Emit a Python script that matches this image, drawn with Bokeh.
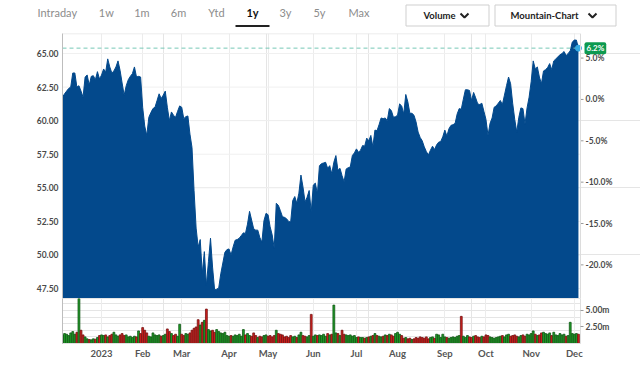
from bokeh.plotting import figure
from bokeh.models import (Range1d, LinearAxis, FixedTicker, NumeralTickFormatter,
                          PrintfTickFormatter, Span, Label, ColumnDataSource, Grid)
from bokeh.layouts import column
from bokeh.embed import file_html
from bokeh.resources import INLINE
from bokeh.core.properties import value

# ---------------- data ----------------
tabs = ["Intraday", "1w", "1m", "6m", "Ytd", "1y", "3y", "5y", "Max"]
active_tab = "1y"
buttons = ["Volume", "Mountain-Chart"]

# daily closes, trading-day index 1..252 (Dec 5 2022 .. Dec 5 2023)
price = [
    61.75, 62.0, 62.2, 62.4, 62.5, 63.55, 63.55, 62.5, 62.6, 62.2,
    61.75, 63.25, 63.4, 62.65, 63.3, 63.35, 63.05, 63.65, 63.1, 63.4,
    63.85, 63.6, 64.6, 64.0, 63.55, 63.7, 64.0, 64.45, 63.75, 62.8,
    61.9, 62.6, 63.05, 63.3, 63.5, 64.0, 63.25, 63.3, 63.25, 61.0,
    59.6, 58.9, 60.25, 60.6, 60.9, 61.0, 61.5, 62.0, 61.65, 61.9,
    62.2, 61.0, 60.0, 60.65, 60.4, 60.25, 60.7, 61.1, 61.0, 60.15,
    60.3, 60.35, 59.0, 58.0, 54.8, 52.0, 50.6, 51.15, 48.6, 50.25,
    47.75, 49.5, 51.25, 49.1, 47.4, 47.45, 47.55, 48.6, 49.4, 50.2,
    50.4, 50.45, 50.0, 50.6, 51.1, 51.15, 51.25, 51.45, 51.65, 51.6,
    52.3, 53.25, 52.6, 51.95, 51.85, 51.85, 51.3, 50.95, 52.55, 53.1,
    53.0, 52.1, 51.5, 50.5, 53.85, 53.7, 53.3, 52.85, 52.8, 52.7,
    52.5, 52.45, 54.05, 54.35, 53.85, 54.6, 55.95, 55.05, 53.95, 54.3,
    54.8, 53.2, 55.2, 55.35, 54.55, 56.65, 56.8, 56.85, 56.9, 56.45,
    56.65, 56.05, 56.9, 57.4, 56.3, 56.45, 55.9, 55.45, 56.4, 56.5,
    56.55, 57.4, 57.6, 57.9, 57.65, 57.8, 58.15, 58.1, 58.7, 58.5,
    58.9, 58.05, 59.3, 59.25, 59.7, 60.2, 60.15, 60.2, 60.0, 60.9,
    60.75, 60.25, 60.3, 60.4, 61.25, 61.1, 60.5, 61.95, 61.4, 60.55,
    60.55, 60.4, 59.9, 59.15, 58.75, 58.5, 58.05, 57.7, 57.45, 57.8,
    58.1, 57.85, 58.2, 58.4, 58.45, 58.8, 59.3, 58.85, 59.4, 59.65,
    59.7, 59.8, 60.5, 60.9, 60.85, 61.6, 62.3, 62.3, 62.25, 61.5,
    62.1, 61.7, 61.25, 61.2, 61.3, 60.7, 60.1, 58.9, 59.8, 60.2,
    61.0, 61.1, 61.3, 61.5, 61.2, 61.9, 62.6, 63.25, 62.75, 61.3,
    60.1, 59.15, 60.25, 60.95, 60.9, 59.75, 60.95, 61.75, 62.9, 64.45,
    63.85, 64.0, 63.25, 62.75, 63.7, 63.8, 63.95, 64.25, 63.8, 64.45,
    64.6, 64.75, 64.9, 65.0, 65.15, 64.85, 65.0, 65.2, 65.85, 66.0,
    66.0, 65.4,
]

# daily volume in millions
volume_m = [
    1.3, 1.5, 1.4, 1.2, 1.6, 1.8, 1.4, 1.7, 7.5, 2.0,
    1.3, 1.0, 0.7, 0.6, 0.55, 0.7, 0.65, 0.9, 1.2, 1.3,
    1.2, 1.3, 1.0, 1.2, 1.4, 1.7, 1.3, 1.1, 1.3, 1.5,
    1.2, 1.3, 1.0, 1.1, 0.9, 1.1, 1.0, 1.9, 1.5, 2.4,
    2.0, 1.6, 1.1, 1.0, 1.6, 1.3, 1.2, 1.3, 1.1, 1.2,
    1.4, 2.2, 1.8, 1.5, 1.2, 1.4, 1.1, 2.9, 1.4, 1.2,
    1.5, 1.4, 1.6, 2.0, 2.3, 2.5, 3.6, 2.8, 3.2, 3.5,
    5.2, 2.1, 1.9, 2.0, 1.7, 2.1, 1.8, 1.6, 1.5, 1.7,
    1.2, 1.1, 1.2, 1.1, 1.3, 1.2, 1.4, 1.1, 2.1, 1.3,
    1.5, 1.2, 1.1, 1.6, 1.2, 0.9, 1.1, 1.0, 1.2, 1.3,
    1.1, 1.2, 1.0, 1.2, 2.0, 1.5, 1.4, 1.3, 1.0, 1.1,
    0.9, 1.2, 1.0, 1.1, 0.9, 1.3, 1.7, 1.2, 1.1, 1.0,
    1.2, 4.4, 1.1, 1.3, 1.2, 1.3, 1.2, 1.4, 1.1, 1.5,
    1.3, 1.4, 5.8, 1.6, 1.5, 1.2, 2.0, 1.4, 1.3, 1.2,
    1.3, 1.1, 1.2, 0.9, 1.0, 0.9, 0.9, 0.8, 0.9, 1.0,
    1.1, 1.2, 1.5, 1.2, 1.1, 1.0, 1.1, 1.3, 1.2, 1.4,
    1.3, 1.1, 1.5, 1.7, 1.4, 1.2, 0.8, 0.9, 0.7, 0.8,
    0.6, 0.7, 0.9, 0.8, 1.0, 0.9, 0.8, 1.0, 0.7, 0.9,
    1.0, 0.8, 1.4, 1.3, 0.9, 1.4, 1.0, 0.9, 0.8, 0.9,
    1.0, 0.9, 1.1, 1.2, 4.1, 1.1, 0.9, 1.2, 1.0, 0.9,
    1.1, 1.2, 1.0, 0.9, 1.1, 1.0, 1.3, 1.2, 1.0, 0.9,
    0.8, 0.9, 1.0, 1.1, 1.2, 1.0, 1.3, 1.4, 1.1, 1.2,
    1.3, 1.1, 1.0, 1.2, 1.3, 1.1, 1.4, 1.3, 1.5, 1.9,
    1.4, 1.2, 1.3, 1.6, 1.7, 1.5, 1.4, 1.6, 1.2, 1.7,
    1.3, 1.2, 1.5, 1.3, 1.4, 1.1, 1.2, 3.2, 1.5, 1.4,
    1.5, 1.4,
]

base_price = 61.58          # reference close for the percent axis
first_index = 1
month_ticks = [20, 40, 59, 82, 101, 123, 144, 164, 187, 207, 229, 250]
month_labels = ["2023", "Feb", "Mar", "Apr", "May", "Jun",
                "Jul", "Aug", "Sep", "Oct", "Nov", "Dec"]
price_ticks = [47.5, 50.0, 52.5, 55.0, 57.5, 60.0, 62.5, 65.0]
pct_ticks = [-20, -15, -10, -5, 0, 5]
vol_ticks = [2.5, 5.0]

# ---------------- styling / layout ----------------
W = 640
BL, BR = 62, 60
X0, X1 = 1, 253                       # index span of the plotting area
PX_PER_IDX = (W - BL - BR) / (X1 - X0)
AREA = "#03498c"
GRID = "#ececec"
LABEL_FONT = "Lato"
TICK_COLOR = "#4a4a4a"

idx = list(range(first_index, first_index + len(price)))
prev = [base_price] + price[:-1]
up = [c >= p for c, p in zip(price, prev)]
fill_cols = ["#1f9e26" if u else "#d11f1c" for u in up]
edge_cols = ["#0f5514" if u else "#741212" for u in up]

src = ColumnDataSource(dict(x=idx, price=price, vol=volume_m,
                            fill=fill_cols, edge=edge_cols))

price_lo, price_hi = 46.76, 66.49


def no_align(f):
    try:
        f.frame_align = False
    except Exception:
        pass


# ---------------- header ----------------
HH = 33
hdr = figure(width=W, height=HH, x_range=(0, W), y_range=(0, HH),
             toolbar_location=None, output_backend="svg", min_border=0,
             x_axis_location=None, y_axis_location=None, title=None)
no_align(hdr)
hdr.grid.visible = False
hdr.outline_line_color = None

tab_x = [56.8, 105.8, 141.4, 178, 216, 252, 285, 319, 358.5]
inactive = [(t, x) for t, x in zip(tabs, tab_x) if t != active_tab]
active = [(t, x) for t, x in zip(tabs, tab_x) if t == active_tab]
hdr.text(x=[x for _, x in inactive], y=HH - 12, text=[t for t, _ in inactive],
         text_font=value(LABEL_FONT), text_font_size="11px", text_color="#8c8c8c",
         text_align="center", text_baseline="middle")
hdr.text(x=[x for _, x in active], y=HH - 12, text=[t for t, _ in active],
         text_font=value(LABEL_FONT), text_font_size="11px", text_color="#111111",
         text_font_style="bold", text_align="center", text_baseline="middle")
hdr.quad(left=[235], right=[269], bottom=[HH - 26.5], top=[HH - 24.5],
         fill_color="#222222", line_color=None)
hdr.quad(left=[405.5, 494.5], right=[488.5, 615.5], bottom=HH - 25.5, top=HH - 4.5,
         fill_color="white", line_color="#cfcfcf", line_width=1)
hdr.text(x=[423, 510], y=HH - 15, text=buttons, text_font=value(LABEL_FONT),
         text_font_size="9.5px", text_font_style="bold", text_color="#222222",
         text_align="left", text_baseline="middle")
hdr.multi_line(xs=[[460, 464, 468], [588, 592, 596]],
               ys=[[HH - 13, HH - 17, HH - 13]] * 2,
               line_color="#222222", line_width=2)

# ---------------- price panel (frame runs to the right edge) ----------------
x_end_price = X0 + (W - BL) / PX_PER_IDX
pf = figure(width=W, height=265, x_range=Range1d(X0, x_end_price),
            y_range=Range1d(price_lo, price_hi),
            toolbar_location=None, output_backend="svg",
            min_border_left=BL, min_border_right=0, min_border_top=0, min_border_bottom=0,
            x_axis_location=None, y_axis_location=None, title=None)
no_align(pf)
pf.outline_line_color = None
pf.add_layout(Grid(dimension=0, ticker=FixedTicker(ticks=month_ticks),
                   grid_line_color=GRID))
pf.segment(x0=X0, x1=X1, y0=price_ticks, y1=price_ticks, line_color="#f0f0f0",
           line_width=1)
pf.segment(x0=[X0], x1=[X1], y0=[price_hi], y1=[price_hi], line_color="#e6e6e6",
           line_width=1.5)

pf.varea(x="x", y1=price_lo, y2="price", source=src, fill_color=AREA)
pf.line(x="x", y="price", source=src, line_color=AREA, line_width=1)

left_ax = LinearAxis(ticker=FixedTicker(ticks=price_ticks),
                     formatter=NumeralTickFormatter(format="0.00"))
left_ax.major_label_text_font = LABEL_FONT
left_ax.major_label_text_font_size = "8.5px"
left_ax.major_label_text_font_style = "bold"
left_ax.major_label_text_color = TICK_COLOR
left_ax.minor_tick_line_color = None
left_ax.major_tick_in = 0
left_ax.major_tick_out = 0
left_ax.major_label_standoff = 4
left_ax.axis_line_color = "#bdbdbd"
pf.add_layout(left_ax, "left")

# right-hand percent scale (relative to base_price), drawn at the data edge
pf.add_layout(Span(location=X1, dimension="height", line_color="#dcdcdc", line_width=1))
pct_y = [base_price * (1 + t / 100) for t in pct_ticks]
pct_txt = [f"{t:.1f}%" for t in pct_ticks]
pf.segment(x0=X1, x1=X1 + 3 / PX_PER_IDX, y0=pct_y, y1=pct_y, line_color="#9a9a9a",
           line_width=1)
pf.text(x=X1, y=pct_y, text=pct_txt, x_offset=5, text_font=value(LABEL_FONT),
        text_font_size="8.5px", text_font_style="bold", text_color=TICK_COLOR,
        text_align="left", text_baseline="middle")

last_price = price[-1]
pf.segment(x0=[X0], x1=[X1], y0=[last_price], y1=[last_price], line_color="#76c8b6",
           line_dash="4 3", line_width=1)
pf.scatter(x=[idx[-1]], y=[last_price], size=6, fill_color="#35aae2",
           line_color="#35aae2")
pct_last = (last_price / base_price - 1) * 100
pf.add_layout(Label(x=X1, y=last_price, text=f"{pct_last:.1f}%", x_offset=4,
                    text_align="left", text_baseline="middle",
                    text_font=LABEL_FONT, text_font_size="8px", text_font_style="bold",
                    text_color="white", background_fill_color="#0d9a50",
                    padding=(2, 1), border_radius=2))

# ---------------- volume panel ----------------
vf = figure(width=W, height=66, x_range=Range1d(X0, X1), y_range=Range1d(0, 6.8),
            toolbar_location=None, output_backend="svg",
            min_border_left=BL, min_border_right=BR, min_border_top=0, min_border_bottom=21,
            x_axis_location=None, y_axis_location=None, title=None)
no_align(vf)
vf.outline_line_color = "#e6e6e6"
vf.add_layout(Grid(dimension=0, ticker=FixedTicker(ticks=month_ticks),
                   grid_line_color=GRID))
vf.vbar(x="x", top="vol", width=0.9, source=src, fill_color="fill",
        line_color="edge", line_width=0.8)

bottom_ax = LinearAxis(ticker=FixedTicker(ticks=month_ticks),
                       major_label_overrides=dict(zip(month_ticks, month_labels)))
bottom_ax.major_tick_out = 0
bottom_ax.major_tick_in = 0
bottom_ax.minor_tick_line_color = None
bottom_ax.major_label_standoff = 4
bottom_ax.axis_line_color = "#e0e0e0"
bottom_ax.major_label_text_font = LABEL_FONT
bottom_ax.major_label_text_font_size = "9.5px"
bottom_ax.major_label_text_font_style = "bold"
bottom_ax.major_label_text_color = "#555555"
vf.add_layout(bottom_ax, "below")

vol_ax = LinearAxis(ticker=FixedTicker(ticks=vol_ticks),
                    formatter=PrintfTickFormatter(format="%.2fm"))
vol_ax.major_label_text_font = LABEL_FONT
vol_ax.major_label_text_font_size = "8.5px"
vol_ax.major_label_text_font_style = "bold"
vol_ax.major_label_text_color = TICK_COLOR
vol_ax.major_tick_in = 0
vol_ax.major_tick_out = 3
vol_ax.major_tick_line_color = "#9a9a9a"
vol_ax.minor_tick_line_color = None
vol_ax.major_label_standoff = 2
vol_ax.axis_line_color = "#dedede"
vf.add_layout(vol_ax, "right")

vleft = LinearAxis(ticker=FixedTicker(ticks=[]))
vleft.axis_line_color = "#bdbdbd"
vleft.major_tick_line_color = None
vleft.minor_tick_line_color = None
vf.add_layout(vleft, "left")

layout = column(hdr, pf, vf, spacing=0)
open("out.html", "w").write(file_html(layout, INLINE))
